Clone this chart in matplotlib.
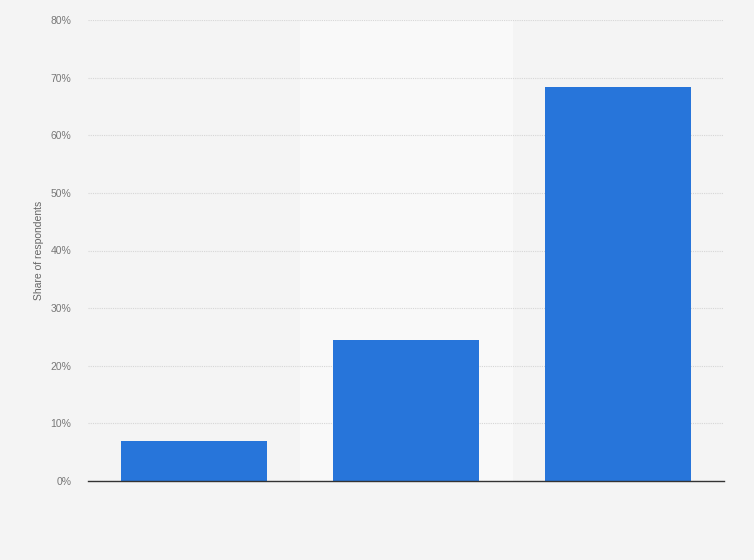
import numpy as np
import matplotlib.pyplot as plt

plt.rcParams['font.family'] = ['Liberation Sans', 'DejaVu Sans']

categories = ["", "", ""]
values = [6.9, 24.4, 68.4]
y_ticks = [0, 10, 20, 30, 40, 50, 60, 70, 80]
tick_labels = ["%d%%" % t for t in y_ticks]

fig = plt.figure(figsize=(7.54, 5.60), dpi=100)
fig.patch.set_facecolor("#f4f4f4")
ax = fig.add_axes([88 / 754, 79 / 560, 636 / 754, 461 / 560])
ax.set_facecolor("#f4f4f4")

x = np.arange(len(values))
# lighter band behind the middle category
ax.axvspan(0.5, 1.5, color="#f9f9f9", zorder=0)
ax.bar(x, values, width=0.69, color="#2775da", zorder=3)

ax.set_xlim(-0.5, 2.5)
ax.set_ylim(0, 80)
ax.set_yticks(y_ticks)
ax.set_yticklabels(tick_labels)
ax.set_xticks([])
ax.yaxis.grid(True, linestyle=(0, (1, 1)), color="#d6d6d6", linewidth=0.8, zorder=1)

for s in ["top", "right", "left"]:
    ax.spines[s].set_visible(False)
ax.spines["bottom"].set_color("#333333")
ax.spines["bottom"].set_linewidth(1.0)
ax.spines["bottom"].set_zorder(4)

ax.tick_params(axis="y", length=0, pad=12, labelsize=7.5, labelcolor="#777777")
ax.set_ylabel("Share of respondents", fontsize=7.5, color="#666666", labelpad=5)

fig.savefig("out.png", dpi=100, facecolor=fig.get_facecolor())
